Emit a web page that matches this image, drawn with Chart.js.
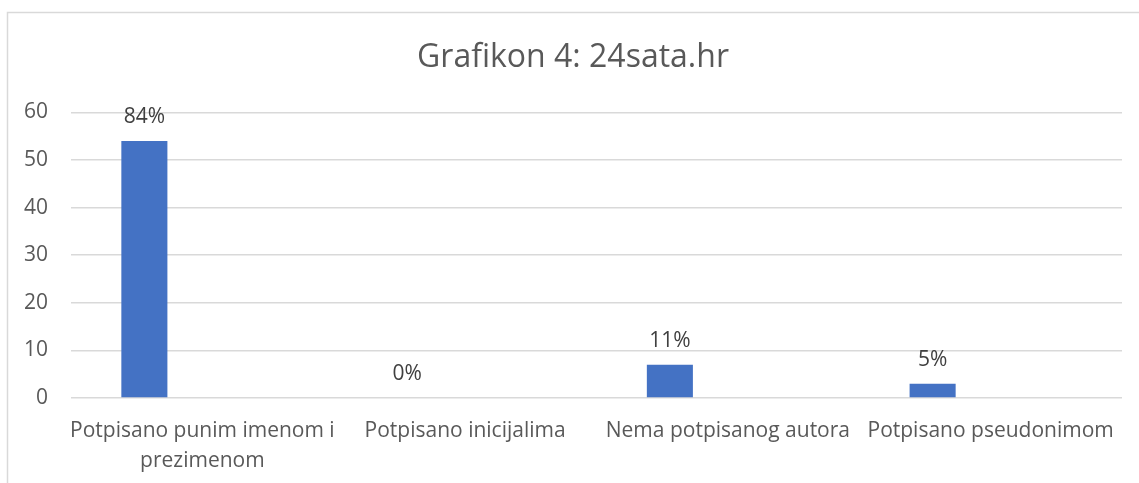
<!DOCTYPE html>
<html>
<head>
<meta charset="utf-8">
<script src="https://cdn.jsdelivr.net/npm/chart.js@4.4.1/dist/chart.umd.min.js"></script>
<style>
  html, body { margin: 0; padding: 0; background: #ffffff; }
  #wrap { width: 1139px; height: 483px; position: relative; }
</style>
</head>
<body>
<div id="wrap"><canvas id="c" width="1139" height="483"></canvas></div>
<script>
const titleText = 'Grafikon 4: 24sata.hr';
const categories = [
  ['Potpisano punim imenom i', 'prezimenom'],
  'Potpisano inicijalima',
  'Nema potpisanog autora',
  'Potpisano pseudonimom'
];
const counts = [54, 0, 7, 3];
const emptySeries = [null, null, null, null];
const percentLabels = ['84%', '0%', '11%', '5%'];
const yTicks = [0, 10, 20, 30, 40, 50, 60];

const FONT = "'Open Sans', 'Liberation Sans', sans-serif";
const TEXT = '#595959';

const framePlugin = {
  id: 'frame',
  beforeDraw(chart) {
    const ctx = chart.ctx;
    ctx.save();
    ctx.fillStyle = '#ffffff';
    ctx.fillRect(0, 0, chart.width, chart.height);
    ctx.strokeStyle = '#d9d9d9';
    ctx.lineWidth = 1.5;
    ctx.strokeRect(7.5, 12.5, 1300, 600);
    ctx.restore();
  }
};

const labelPlugin = {
  id: 'barLabels',
  afterDatasetsDraw(chart) {
    const ctx = chart.ctx;
    const meta = chart.getDatasetMeta(0);
    ctx.save();
    ctx.font = '21px ' + FONT;
    ctx.fillStyle = '#404040';
    ctx.textAlign = 'center';
    ctx.textBaseline = 'middle';
    meta.data.forEach((bar, i) => {
      ctx.fillText(percentLabels[i], bar.x, bar.y - 24);
    });
    ctx.restore();
  }
};

new Chart(document.getElementById('c'), {
  type: 'bar',
  data: {
    labels: categories,
    datasets: [
      { label: 'Broj', data: counts, backgroundColor: '#4472c4', categoryPercentage: 0.883, barPercentage: 0.397, yAxisID: 'y' },
      { label: '', data: emptySeries, backgroundColor: '#ed7d31', categoryPercentage: 0.883, barPercentage: 0.397, yAxisID: 'y' }
    ]
  },
  options: {
    responsive: false,
    animation: false,
    layout: { padding: { left: 7, right: 0, top: 12, bottom: 0 } },
    plugins: {
      legend: { display: false },
      tooltip: { enabled: false },
      title: {
        display: true,
        text: titleText,
        color: TEXT,
        font: { family: FONT, size: 32, weight: 'normal', lineHeight: 1.2 },
        padding: { top: 27, bottom: 35 }
      }
    },
    scales: {
      x: {
        grid: { display: false },
        border: { display: false },
        ticks: {
          color: TEXT,
          font: { family: FONT, size: 21, lineHeight: 1.42 },
          padding: 10,
          maxRotation: 0,
          autoSkip: false
        },
        afterFit(s) { s.height = 85; }
      },
      y: {
        min: 0,
        max: 60,
        afterBuildTicks(s) { s.ticks = yTicks.map(v => ({ value: v })); },
        grid: { color: '#d9d9d9', lineWidth: 1.5, drawTicks: false },
        border: { display: false },
        ticks: {
          color: TEXT,
          font: { family: FONT, size: 21 },
          padding: 23
        },
        afterFit(s) { s.width = 64; }
      },
      y2: {
        position: 'right',
        display: true,
        grid: { display: false, drawTicks: false },
        border: { display: false },
        ticks: { display: false },
        afterFit(s) { s.width = 17; }
      }
    }
  },
  plugins: [framePlugin, labelPlugin]
});
</script>
</body>
</html>
